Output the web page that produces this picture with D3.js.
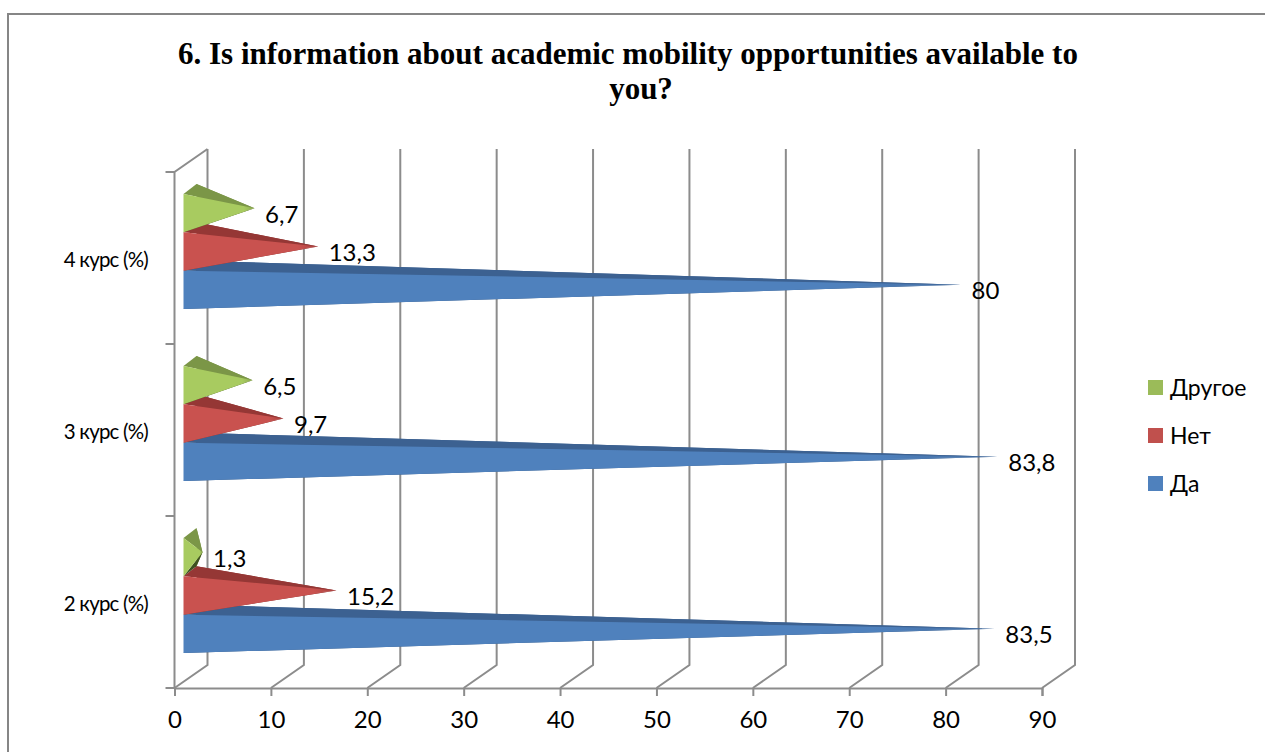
<!DOCTYPE html>
<html>
<head>
<meta charset="utf-8">
<script src="https://cdn.jsdelivr.net/npm/d3@7"></script>
<style>
  html, body { margin: 0; padding: 0; background: #fff; }
  svg { display: block; }
  text { font-family: Lato, "Noto Sans", sans-serif; fill: #000; }
</style>
</head>
<body>
<div class="chart"></div>
<script>
const categories = ["2 курс (%)", "3 курс (%)", "4 курс (%)"];
const seriesNames = ["Да", "Нет", "Другое"];
const da = [83.5, 83.8, 80];
const net = [15.2, 9.7, 13.3];
const drugoe = [1.3, 6.5, 6.7];
const xTicks = [0, 10, 20, 30, 40, 50, 60, 70, 80, 90];
const titleLines = ["6. Is information about academic mobility opportunities available to", "you?"];

const seriesValues = [da, net, drugoe];
const colors = [
  { front: "#4f81bd", top: "#3c6191", side: "#345680", legend: "#4f81bd" },
  { front: "#c9524f", top: "#953735", side: "#7f2f2d", legend: "#c0504d" },
  { front: "#a8cb60", top: "#7b9647", side: "#3f5220", legend: "#9bbb59" }
];

const width = 1265, height = 752;
const depthX = 33, depthY = 23;
const floorY = 688, topY = 172;

const svg = d3.select(".chart").append("svg")
  .attr("width", width)
  .attr("height", height);

const x = d3.scaleLinear().domain([0, 90]).range([174.5, 1042]);
const y = d3.scaleBand().domain(categories).range([floorY, topY]);
// series sit inside each category, first series at the bottom
const ySeries = d3.scaleBand().domain(seriesNames).range([y.bandwidth() - 28.5, 28.5]);

// chart frame
svg.append("path")
  .attr("d", `M8,${height}V14H${width}`)
  .attr("fill", "none")
  .attr("stroke", "#868686")
  .attr("stroke-width", 2);

// title, the second line sits a bit right of the first in the original
svg.selectAll(".title")
  .data(titleLines)
  .join("text")
  .attr("class", "title")
  .attr("x", (d, i) => i === 0 ? 628 : 641)
  .attr("y", (d, i) => 64 + i * 35)
  .attr("text-anchor", "middle")
  .style("font-family", "'Liberation Serif', serif")
  .style("font-weight", "bold")
  .style("font-size", "31px")
  .text(d => d);

const grid = svg.append("g")
  .attr("fill", "none")
  .attr("stroke", "#8c8c8c")
  .attr("stroke-width", 2);

// back wall verticals and floor diagonals
grid.selectAll(".wall")
  .data(xTicks)
  .join("path")
  .attr("class", "wall")
  .attr("d", d => `M${x(d)},${floorY}l${depthX},${-depthY}V${topY - depthY}`);

// front left axis with the top diagonal
grid.append("path")
  .attr("d", `M${x(0)},${floorY}V${topY}l${depthX},${-depthY}`);

const xAxis = d3.axisBottom(x).tickValues(xTicks).tickSize(8).tickPadding(15);
const xAxisG = svg.append("g")
  .attr("transform", `translate(0,${floorY})`)
  .call(xAxis);
xAxisG.select(".domain").attr("stroke", "#8c8c8c").attr("stroke-width", 2);
xAxisG.selectAll(".tick line").attr("stroke", "#8c8c8c").attr("stroke-width", 2);
xAxisG.selectAll("text").style("font-size", "24px").style("font-family", "Lato, 'Noto Sans', sans-serif").attr("fill", "#000");

// left ticks on band edges
grid.selectAll(".ytick")
  .data(categories.map(c => y(c)).concat(floorY))
  .join("path")
  .attr("class", "ytick")
  .attr("d", d => `M${x(0) - 9},${d}H${x(0)}`);

svg.selectAll(".cat")
  .data(categories)
  .join("text")
  .attr("class", "cat")
  .attr("x", 148)
  .attr("y", d => y(d) + y.bandwidth() / 2 + 2)
  .attr("dy", "0.35em")
  .attr("text-anchor", "end")
  .style("font-size", "20.5px")
  .style("letter-spacing", "-0.8px")
  .text(d => d);

// fade at the thin tip of each bar
const defs = svg.append("defs");
colors.forEach((c, i) => {
  const g = defs.append("linearGradient").attr("id", "fade" + i);
  g.append("stop").attr("offset", "0.85").attr("stop-color", c.front);
  g.append("stop").attr("offset", "1").attr("stop-color", c.front).attr("stop-opacity", 0.35);
});

// pyramids
const baseX = x(0) + 9;
const backX = 13, backY = 10;
const pts = a => a.map(p => p.join(",")).join(" ");

categories.forEach((cat, ci) => {
  seriesNames.forEach((name, si) => {
    const v = seriesValues[si][ci];
    const yTop = y(cat) + ySeries(name) - 6.5;
    const yBot = yTop + ySeries.bandwidth();
    const tip = [x(v) + 15.5, (yTop + yBot) / 2 - 5];
    const g = svg.append("g").attr("class", "bar");
    g.append("polygon")
      .attr("points", pts([[baseX + backX, yTop - backY], [baseX + backX, yBot - backY], tip]))
      .attr("fill", colors[si].top);
    g.append("polygon")
      .attr("points", pts([[baseX, yBot], [baseX + backX, yBot - backY], tip]))
      .attr("fill", colors[si].side);
    g.append("polygon")
      .attr("points", pts([[baseX, yTop], [baseX + backX, yTop - backY], tip]))
      .attr("fill", colors[si].top);
    g.append("polygon")
      .attr("points", pts([[baseX, yTop], [baseX, yBot], tip]))
      .attr("fill", `url(#fade${si})`);
  });
});

// value labels go last so the bars never cover them
categories.forEach((cat, ci) => {
  seriesNames.forEach((name, si) => {
    const v = seriesValues[si][ci];
    const yTop = y(cat) + ySeries(name) - 6.5;
    svg.append("text")
      .attr("x", x(v) + 26)
      .attr("y", yTop + ySeries.bandwidth() / 2 + 1)
      .attr("dy", "0.35em")
      .style("font-size", "24px")
      .text(String(v).replace(".", ","));
  });
});

// legend
const legendOrder = [2, 1, 0];
const legend = svg.selectAll(".legend")
  .data(legendOrder)
  .join("g")
  .attr("class", "legend")
  .attr("transform", (d, i) => `translate(1148,${380 + i * 48})`);
legend.append("rect")
  .attr("width", 15)
  .attr("height", 15)
  .attr("fill", d => colors[d].legend);
legend.append("text")
  .attr("x", 22)
  .attr("y", 7.5)
  .attr("dy", "0.35em")
  .style("font-size", "23px")
  .text(d => seriesNames[d]);
</script>
</body>
</html>
